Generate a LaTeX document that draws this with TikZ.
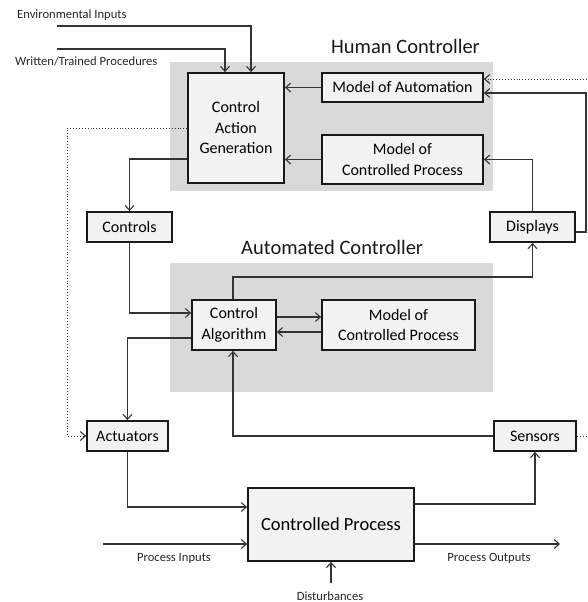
\documentclass[tikz,border=0pt]{standalone}
\usepackage{fontspec}
\setmainfont{Carlito}
\usetikzlibrary{arrows.meta,calc}
\definecolor{panelgray}{HTML}{D9D9D9}
\definecolor{boxfill}{HTML}{F2F2F2}
\definecolor{linegray}{HTML}{333333}
\begin{document}
\begin{tikzpicture}[x=1pt,y=-1pt,
  box/.style={draw=black!90,line width=1.8pt,fill=boxfill,inner sep=0pt,align=center,font=\fontsize{16}{20.5}\selectfont},
  panel/.style={fill=panelgray,draw=none},
  conn/.style={draw=linegray,line width=1.1pt},
  arr/.style={conn,-{Straight Barb[length=5pt,width=9pt,line width=1.1pt]}},
  dotconn/.style={draw=linegray,line width=0.9pt,dotted},
  dotarr/.style={dotconn,-{Straight Barb[length=5pt,width=9pt,line width=1.1pt]}},
  small/.style={font=\fontsize{12.6}{15}\selectfont,text=black!85,inner sep=0pt},
  title/.style={font=\fontsize{20.5}{24}\selectfont,text=black!90,inner sep=0pt}]
\useasboundingbox (0,0) rectangle (587,602);
% panels
\fill[panel] (170,62) rectangle (493,191);
\fill[panel] (170,263) rectangle (493,392);
\node[title,anchor=base west] (ht) at (331,53) {Human Controller};
\node[title,anchor=base west] (at) at (241,254) {Automated Controller};
% boxes
\node[box,minimum width=96pt,minimum height=110pt] (cag) at (236,128) {Control\\Action\\Generation};
\node[box,minimum width=161pt,minimum height=29pt] (moa) at (402.5,87.5) {Model of Automation};
\node[box,minimum width=161pt,minimum height=49pt] (mcph) at (402.5,159.5) {Model of\\Controlled Process};
\node[box,minimum width=85pt,minimum height=30pt] (controls) at (129.5,227) {Controls};
\node[box,minimum width=85pt,minimum height=30pt] (displays) at (532.5,227) {Displays};
\node[box,minimum width=84pt,minimum height=50pt] (ca) at (234,325) {Control\\Algorithm};
\node[box,minimum width=153pt,minimum height=50pt] (mcpa) at (398.5,325) {Model of\\Controlled Process};
\node[box,minimum width=81pt,minimum height=30pt] (actuators) at (127.5,436) {Actuators};
\node[box,minimum width=82pt,minimum height=30pt] (sensors) at (535,436) {Sensors};
\node[box,minimum width=166pt,minimum height=73pt,font=\fontsize{18.5}{22}\selectfont] (cp) at (331,524.5) {Controlled Process};
% labels
\node[small,anchor=base west] (envl) at (17,19) {Environmental Inputs};
\node[small,anchor=base west] (wtl) at (15,66) {Written/Trained Procedures};
\node[small,anchor=base] (pil) at (174,561) {Process Inputs};
\node[small,anchor=base] (pol) at (489,561) {Process Outputs};
\node[small,anchor=base] (dl) at (330,600) {Disturbances};
% helper coordinates
\coordinate (e0) at (57,26);
\coordinate (w0) at (57,49);
\coordinate (dotx) at (67,0);
\coordinate (ytop) at (0,277);
\coordinate (rx) at (586,0);
\coordinate (edge) at (587,0);
\coordinate (pi0) at (103,544);
\coordinate (po1) at (560,0);
\coordinate (d0) at (331,583);
% connectors
\draw[arr] (e0) -| ([xshift=15pt]cag.north);
\draw[arr] (w0) -| ([xshift=-11pt]cag.north);
\draw[dotarr] (cag.west) -- (cag.west -| dotx) |- (actuators.west);
\draw[arr] ([yshift=-31pt]cag.west) -| (controls.north);
\draw[arr] (controls.south) |- ([yshift=12pt]ca.west);
\draw[arr] ([yshift=-13pt]ca.west) -| (actuators.north);
\draw[arr] ([xshift=-1pt]ca.north) -- ([xshift=-1pt]ca.north |- ytop) -| (displays.south);
\draw[arr] (displays.north) |- (mcph.east);
\draw[arr] ([yshift=-5pt]displays.east) -- ([yshift=-5pt]displays.east -| rx) |- ([yshift=-5.5pt]moa.east);
\draw[dotconn] (sensors.east) -- (sensors.east -| edge);
\draw[dotarr] ([yshift=8.5pt]moa.east -| edge) -- ([yshift=8.5pt]moa.east);
\draw[arr] (moa.west) -- (moa.west -| cag.east);
\draw[arr] (mcph.west) -- (mcph.west -| cag.east);
\draw[arr] ([yshift=8pt]ca.east) -- ([yshift=8pt]ca.east -| mcpa.west);
\draw[arr] ([yshift=-7pt]mcpa.west) -- ([yshift=-7pt]mcpa.west -| ca.east);
\draw[arr] (sensors.west) -| ([xshift=-1pt]ca.south);
\draw[arr] (actuators.south) |- ([yshift=17.5pt]cp.west);
\draw[arr] (pi0) -- (pi0 -| cp.west);
\draw[arr] ([yshift=20.5pt]cp.east) -| (sensors.south);
\draw[arr] ([yshift=-19.5pt]cp.east) -- ([yshift=-19.5pt]cp.east -| po1);
\draw[arr] (d0) -- (cp.south);
\end{tikzpicture}
\end{document}
